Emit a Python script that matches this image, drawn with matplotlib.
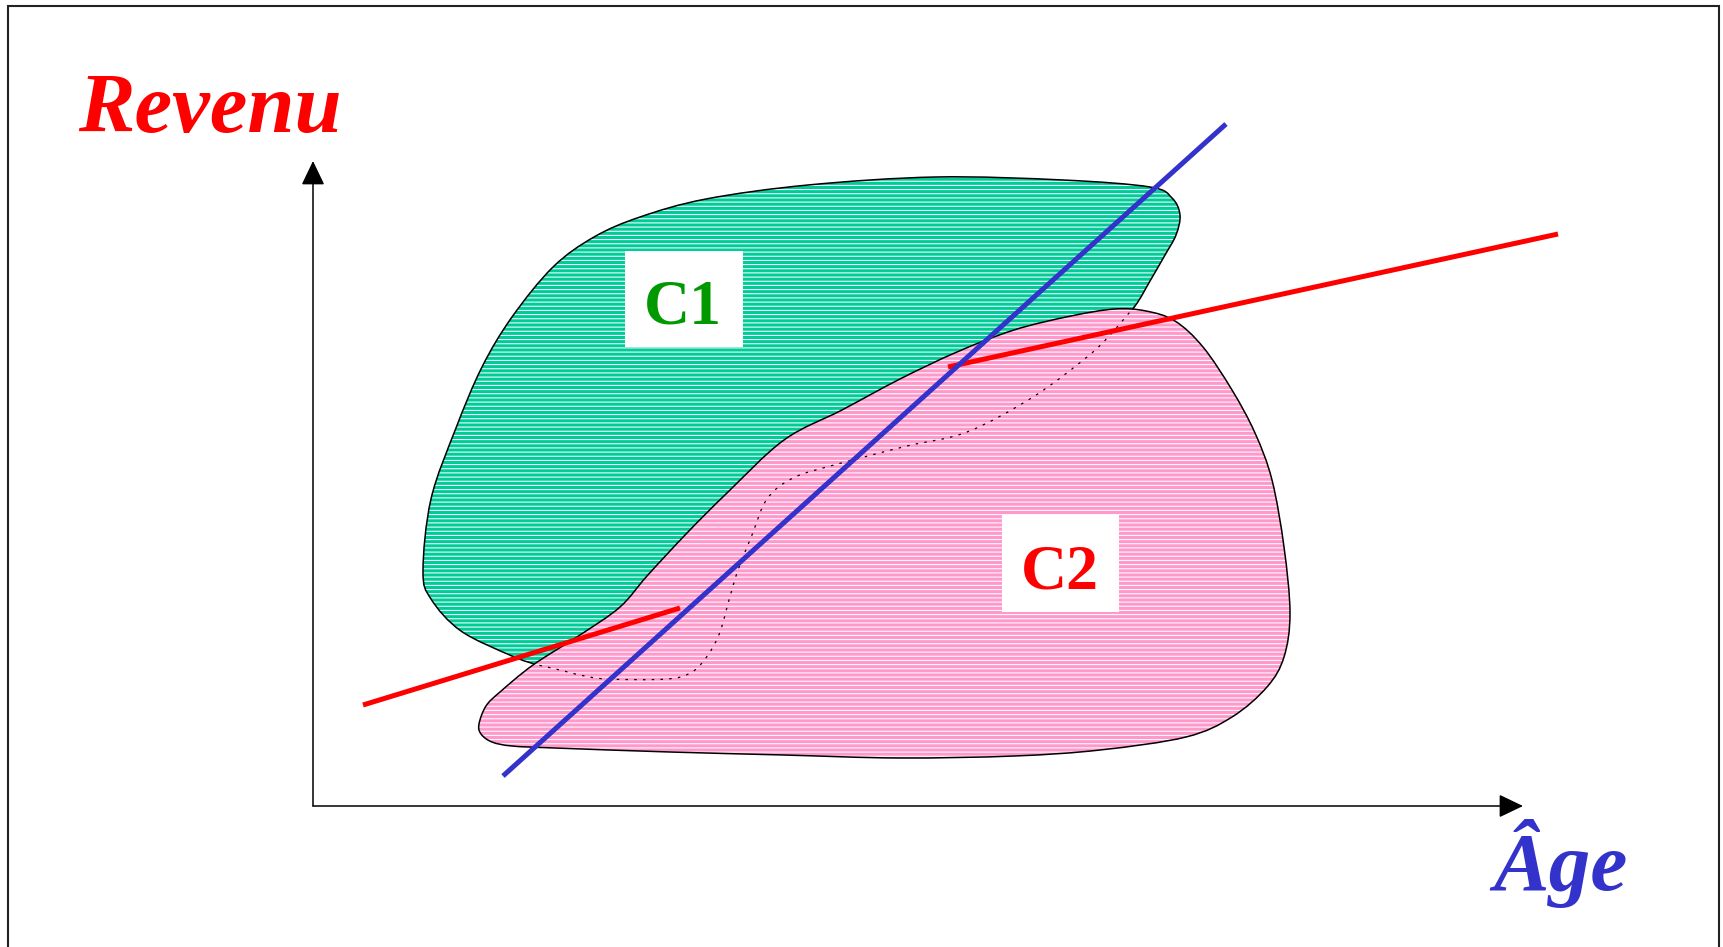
import matplotlib
matplotlib.use("Agg")
import matplotlib.pyplot as plt
from matplotlib.path import Path
from matplotlib.patches import PathPatch, Rectangle
import numpy as np

plt.rcParams['hatch.linewidth'] = 0.75
plt.rcParams['hatch.color'] = 'white'

# ---------------- data (pixel-space diagram coordinates) ----------------
W, H = 1724, 947

# Cluster C1 outline (visible outer edge, then hidden edge under C2)
c1_x = [538, 512, 461, 431, 423, 431, 456, 482, 512, 553, 594, 640, 706, 808, 936,
        1063, 1150, 1172, 1180, 1176, 1165, 1150, 1135,
        1110, 1087, 1033, 967, 907, 834, 793, 767, 752, 738, 729, 720, 708, 692,
        667, 607, 580, 560]
c1_y = [665, 656, 631, 599, 571, 499, 428, 367, 317, 267, 237, 217, 199, 185, 177,
        180, 187, 198, 215, 235, 255, 281, 306,
        335, 357, 397, 432, 446, 465, 478, 499, 535, 570, 600, 632, 655, 672,
        679, 679, 675, 670]

# Hidden C1 boundary drawn dotted over C2
hid_x = [1135, 1110, 1087, 1033, 967, 907, 834, 793, 767, 752, 738, 729, 720, 708,
         692, 667, 607, 580, 560, 538]
hid_y = [306, 335, 357, 397, 432, 446, 465, 478, 499, 535, 570, 600, 632, 655,
         672, 679, 679, 675, 670, 665]

# Cluster C2 outline
c2_x = [479, 486, 500, 533, 580, 620, 647, 687, 727, 784, 842, 900, 957, 1014, 1071,
        1115, 1146, 1175, 1203, 1232, 1255, 1272, 1284, 1290, 1284, 1267, 1232, 1186,
        1100, 1014, 899, 784, 670, 555, 512, 492, 481]
c2_y = [724, 706, 692, 665, 635, 607, 576, 533, 493, 440, 410, 379, 352, 330, 316,
        309, 311, 321, 347, 390, 433, 480, 547, 613, 657, 687, 717, 737,
        750, 756, 758, 755, 752, 748, 746, 742, 734]

# Separating lines
blue_line = {"x": [503, 1226], "y": [776, 124]}
red_line_1 = {"x": [363, 680], "y": [705, 608]}
red_line_2 = {"x": [948, 1558], "y": [367, 234]}

# Axes (origin and arrow tips)
axis_origin = (313, 806)
y_tip = (313, 161)
x_tip = (1523, 806)

# Label boxes (x0, y0, x1, y1) and labels
label_text = ["C1", "C2"]
label_pos = [(683, 323), (1060, 588)]
label_box = [(625, 251, 743, 347), (1002, 515, 1119, 612)]
label_color = ["#009900", "#FF0000"]

# ---------------- helpers ----------------
def catmull_path(xs, ys, closed=True):
    P = np.column_stack([xs, ys]).astype(float)
    n = len(P)
    verts = [P[0]]
    codes = [Path.MOVETO]
    segs = n if closed else n - 1
    for i in range(segs):
        if closed:
            p0, p1, p2, p3 = P[(i - 1) % n], P[i], P[(i + 1) % n], P[(i + 2) % n]
        else:
            p0 = P[max(i - 1, 0)]
            p1 = P[i]
            p2 = P[i + 1]
            p3 = P[min(i + 2, n - 1)]
        c1 = p1 + (p2 - p0) / 6.0
        c2 = p2 - (p3 - p1) / 6.0
        verts += [c1, c2, p2]
        codes += [Path.CURVE4] * 3
    if closed:
        verts.append(P[0])
        codes.append(Path.CLOSEPOLY)
    return Path(np.array(verts), codes)

# ---------------- figure ----------------
fig = plt.figure(figsize=(W / 100, H / 100), dpi=100)
ax = fig.add_axes([0, 0, 1, 1])
ax.set_xlim(0, W)
ax.set_ylim(H, 0)
ax.axis('off')

# border frame
ax.plot([8, 8, 1719, 1719], [H + 5, 6, 6, H + 5], color='#222222', lw=1.5,
        solid_joinstyle='miter', zorder=1)

# C1
p1 = catmull_path(c1_x, c1_y)
ax.add_patch(PathPatch(p1, facecolor='#00CC99', edgecolor='white', lw=0,
                       hatch='----', zorder=2))
ax.add_patch(PathPatch(p1, facecolor='none', edgecolor='black', lw=1.1, zorder=3))

# C2
p2 = catmull_path(c2_x, c2_y)
ax.add_patch(PathPatch(p2, facecolor='#FF99CC', edgecolor='white', lw=0,
                       hatch='----', zorder=4))
ax.add_patch(PathPatch(p2, facecolor='none', edgecolor='black', lw=1.1, zorder=5))

# hidden boundary of C1
ph = catmull_path(hid_x, hid_y, closed=False)
ax.add_patch(PathPatch(ph, facecolor='none', edgecolor='black', lw=0.9,
                       linestyle=(0, (2, 5)), zorder=6))

# axes arrows
for tip in (y_tip, x_tip):
    ax.annotate('', xy=tip, xytext=axis_origin,
                arrowprops=dict(arrowstyle='-|>,head_length=1.5,head_width=0.72',
                                mutation_scale=10, lw=1.1, color='black',
                                shrinkA=0, shrinkB=0), zorder=7)

# lines
ax.plot(red_line_1["x"], red_line_1["y"], color='#FF0000', lw=3.6,
        solid_capstyle='butt', zorder=8)
ax.plot(red_line_2["x"], red_line_2["y"], color='#FF0000', lw=3.6,
        solid_capstyle='butt', zorder=8)
ax.plot(blue_line["x"], blue_line["y"], color='#3333CC', lw=3.6,
        solid_capstyle='butt', zorder=9)

# labels
for t, (x, y), (x0, y0, x1, y1), c in zip(label_text, label_pos, label_box, label_color):
    ax.add_patch(Rectangle((x0, y0), x1 - x0, y1 - y0, facecolor='white',
                           edgecolor='none', zorder=10))
    ax.text(x, y, t, color=c, fontsize=46, fontweight='bold',
            family='Liberation Serif', ha='center', va='baseline', zorder=11)

ax.text(78, 132, 'Revenu', color='#FF0000', fontsize=61, fontweight='bold',
        fontstyle='italic', family='Liberation Serif', ha='left', va='baseline')
ax.text(1493, 890, 'Âge', color='#3333CC', fontsize=60, fontweight='bold',
        fontstyle='italic', family='Liberation Serif', ha='left', va='baseline')

fig.savefig('out.png', dpi=100)
